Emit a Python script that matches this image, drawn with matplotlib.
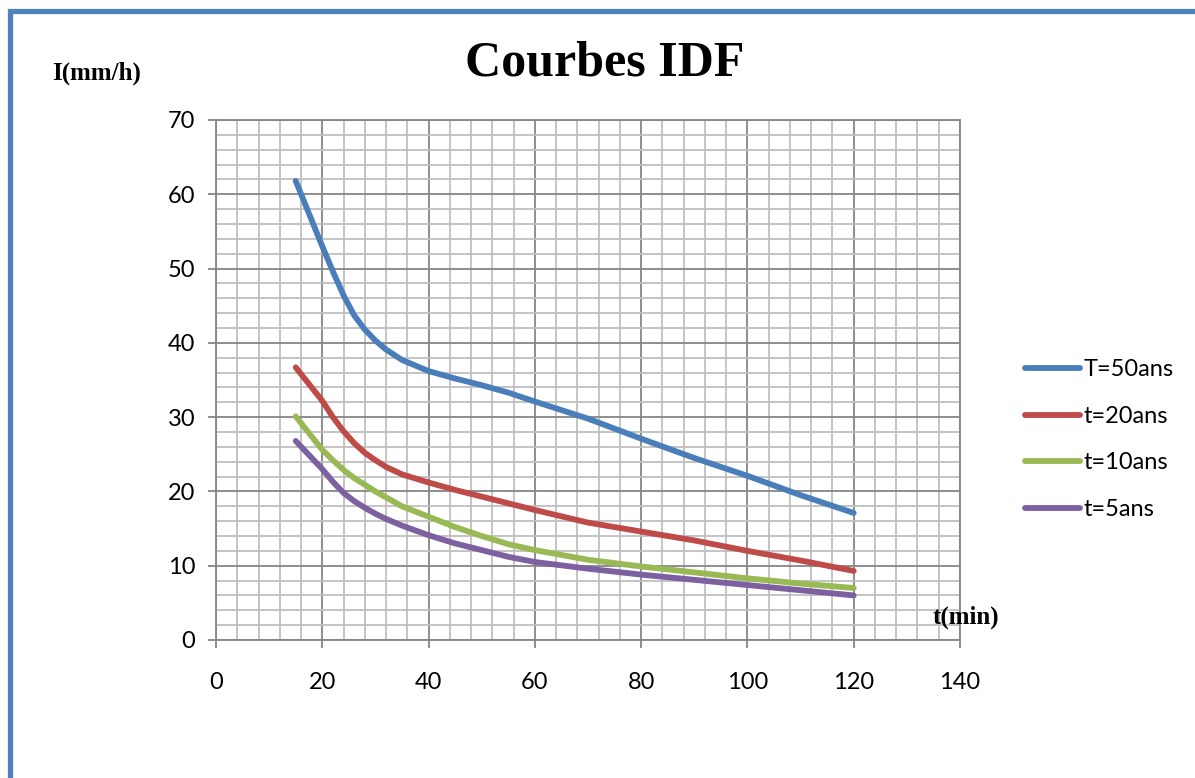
import numpy as np
import matplotlib.pyplot as plt
from matplotlib.patches import Rectangle
from matplotlib.ticker import MultipleLocator

# durations (min) and intensities (mm/h)
t = [15, 20, 22, 24, 26, 28, 30, 32, 35, 40, 45, 50, 55, 60, 70, 80, 90, 100, 110, 120]
i_50 = [61.8, 53.0, 49.6, 46.4, 43.7, 41.8, 40.3, 39.1, 37.7, 36.2, 35.2, 34.3, 33.3, 32.1,
        29.8, 27.1, 24.5, 22.1, 19.5, 17.1]
i_20 = [36.7, 32.2, 30.0, 28.1, 26.5, 25.2, 24.2, 23.3, 22.3, 21.2, 20.2, 19.3, 18.4, 17.5,
        15.8, 14.6, 13.4, 12.0, 10.7, 9.3]
i_10 = [30.1, 25.6, 24.2, 22.9, 21.8, 20.9, 20.0, 19.2, 18.0, 16.6, 15.2, 14.0, 12.9, 12.1,
        10.8, 9.9, 9.1, 8.3, 7.6, 7.0]
i_5 = [26.8, 23.0, 21.3, 19.8, 18.7, 17.8, 17.0, 16.3, 15.4, 14.1, 13.0, 12.1, 11.2, 10.5,
       9.6, 8.8, 8.1, 7.4, 6.7, 6.0]
labels = ['T=50ans', 't=20ans', 't=10ans', 't=5ans']
colors = ['#4A7EBB', '#BE4B48', '#98B954', '#7D60A0']

fig = plt.figure(figsize=(11.95, 7.78), dpi=100)
ax = fig.add_axes([216/1195, 1-640/778, 744/1195, 520/778])

for y, lab, c in zip([i_50, i_20, i_10, i_5], labels, colors):
    ax.plot(t, y, color=c, lw=4.2, label=lab, solid_capstyle='round', solid_joinstyle='round')

ax.set_xlim(0, 140)
ax.set_ylim(0, 70)
ax.xaxis.set_major_locator(MultipleLocator(20))
ax.xaxis.set_minor_locator(MultipleLocator(4))
ax.yaxis.set_major_locator(MultipleLocator(10))
ax.yaxis.set_minor_locator(MultipleLocator(2))
ax.grid(which='minor', color='#BFBFBF', lw=1.3)
ax.grid(which='major', color='#868686', lw=1.3)
ax.set_axisbelow(True)
for s in ax.spines.values():
    s.set_color('#868686')
    s.set_linewidth(1.3)
ax.tick_params(which='major', length=6, width=1.3, color='#868686', labelsize=17, pad=9)
ax.tick_params(which='minor', length=0)
ax.tick_params(axis='x', pad=17)
for lbl in ax.get_xticklabels() + ax.get_yticklabels():
    lbl.set_family('Lato')

fig.text(0.506, 1-63/778, 'Courbes IDF', family='Liberation Serif', weight='bold',
         fontsize=36, ha='center', va='center')
fig.text(52/1195, 1-73/778, 'I(mm/h)', family='Liberation Serif', weight='bold',
         fontsize=18, ha='left', va='center')
fig.text(933/1195, 1-617/778, 't(min)', family='Liberation Serif', weight='bold',
         fontsize=18, ha='left', va='center')

leg = fig.legend(loc='upper left', bbox_to_anchor=(1016/1195, 1-350/778), frameon=False,
                 prop={'family': 'Lato', 'size': 17}, handlelength=2.3, handletextpad=0.15,
                 labelspacing=1.08, borderaxespad=0)

# blue frame around the chart area
fig.add_artist(Rectangle((9.5/1195, -0.1), 1.2, 1-11.5/778+0.1, transform=fig.transFigure,
                         fill=False, edgecolor='#4F81BD', lw=3.8, clip_on=False))

fig.savefig('out.png', dpi=100)
